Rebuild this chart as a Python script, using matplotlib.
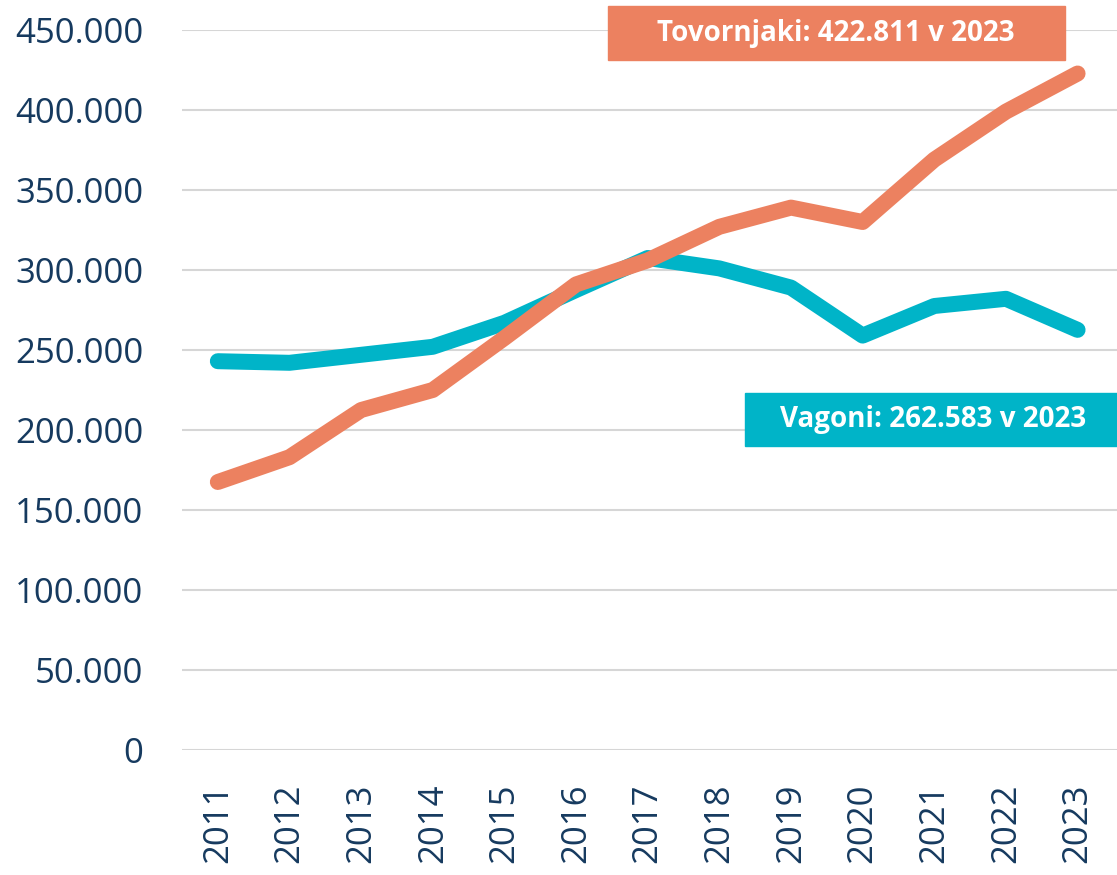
import matplotlib.pyplot as plt
from matplotlib.ticker import FuncFormatter
from matplotlib.patches import Rectangle

years = [2011, 2012, 2013, 2014, 2015, 2016, 2017, 2018, 2019, 2020, 2021, 2022, 2023]
tovornjaki = [167500, 183000, 212500, 225000, 257500, 291000, 306000, 327000, 339000, 330000, 369000, 399000, 422811]
vagoni = [243000, 242000, 247000, 252000, 267000, 287500, 307500, 301000, 289000, 259000, 277500, 282000, 262583]

c_orange = "#EC8160"
c_teal = "#00B4C8"
c_text = "#163A5F"

plt.rcParams['font.family'] = ['Open Sans', 'DejaVu Sans']

fig = plt.figure(figsize=(11.17, 8.75), dpi=100)
ax = fig.add_axes([182 / 1117, 1 - 750 / 875, 1 - 182 / 1117, 720 / 875])

ax.plot(years, vagoni, color=c_teal, lw=11.5, solid_capstyle="round", solid_joinstyle="round", zorder=3)
ax.plot(years, tovornjaki, color=c_orange, lw=11.5, solid_capstyle="round", solid_joinstyle="round", zorder=4)

ax.set_ylim(0, 450000)
ax.set_xlim(years[0] - 0.5, years[-1] + 0.55)
ax.set_yticks(range(0, 450001, 50000))
ax.set_xticks(years)
ax.set_xticklabels([str(y) for y in years], rotation=90)
ax.yaxis.set_major_formatter(FuncFormatter(lambda v, p: f"{int(v):,}".replace(",", ".")))
ax.grid(axis="y", color="#d6d6d6", lw=1.5)
ax.set_axisbelow(True)
for s in ax.spines.values():
    s.set_visible(False)
ax.tick_params(length=0, labelsize=25, colors=c_text)
ax.tick_params(axis="y", pad=28)
ax.tick_params(axis="x", pad=24)

# oznake
fig.patches.append(Rectangle((608 / 1117, 1 - 60 / 875), 457 / 1117, 54 / 875,
                             transform=fig.transFigure, color=c_orange, zorder=5))
fig.text(836 / 1117, 1 - 33 / 875, f"Tovornjaki: {tovornjaki[-1]:,} v {years[-1]}".replace(",", "."),
         color="white", fontsize=20, fontweight="bold", ha="center", va="center", zorder=6)
fig.patches.append(Rectangle((745 / 1117, 1 - 446 / 875), 372 / 1117, 53 / 875,
                             transform=fig.transFigure, color=c_teal, zorder=5))
fig.text(933 / 1117, 1 - 420 / 875, f"Vagoni: {vagoni[-1]:,} v {years[-1]}".replace(",", "."),
         color="white", fontsize=20, fontweight="bold", ha="center", va="center", zorder=6)

fig.savefig("out.png", dpi=100)
